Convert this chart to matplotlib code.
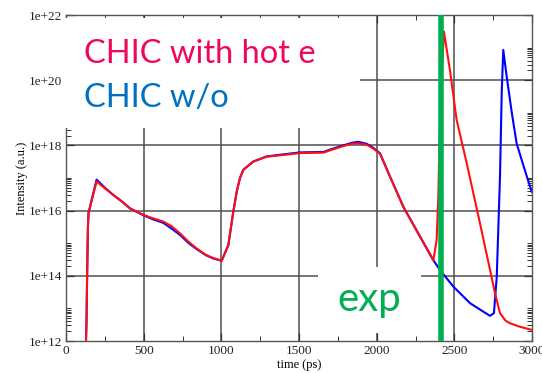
import numpy as np
import matplotlib
matplotlib.use("Agg")
import matplotlib.pyplot as plt
from matplotlib.patches import Rectangle

# time (ps) and intensity (a.u.)
t_hot = [126, 132, 136, 141, 145, 160, 197, 251, 305, 360, 412, 498, 560, 627, 680, 734,
         790, 841, 900, 948, 1002, 1045, 1075, 1099, 1120, 1142, 1206, 1292, 1399, 1506,
         1657, 1720, 1785, 1840, 1880, 1936, 1980, 2022, 2086, 2172, 2279, 2340, 2365,
         2386, 2397, 2401, 2412, 2433, 2472, 2515, 2580, 2665, 2730, 2762, 2794, 2830,
         2858, 2920, 2998]
i_hot = [3e11, 4e12, 1e14, 3e15, 8.3e15, 1.6e16, 7.8e16, 4.8e16, 3.0e16, 1.9e16, 1.17e16,
         7.4e15, 5.8e15, 4.6e15, 3.3e15, 2.0e15, 1.1e15, 6.9e14, 4.4e14, 3.5e14, 2.9e14,
         8.7e14, 8e15, 3.8e16, 1e17, 1.8e17, 3.2e17, 4.5e17, 5.1e17, 5.8e17, 6.0e17,
         7.6e17, 9.5e17, 1.12e18, 1.17e18, 1.05e18, 7.9e17, 5.5e17, 1.1e17, 1.3e16,
         1.6e15, 5e14, 3.0e14, 1.26e15, 2.7e16, 2.2e17, 3e19, 3.1e21, 2.0e20, 6.0e18,
         2.8e17, 4.1e15, 1.5e14, 2.9e13, 7.1e12, 4.2e12, 3.5e12, 2.75e12, 2.2e12]

t_wo = [126, 132, 136, 141, 145, 160, 197, 251, 305, 360, 412, 498, 560, 627, 680, 734,
        790, 841, 900, 948, 1002, 1045, 1075, 1099, 1120, 1142, 1206, 1292, 1399, 1506,
        1657, 1720, 1785, 1840, 1880, 1936, 1980, 2022, 2086, 2172, 2279, 2340, 2365,
        2408, 2493, 2601, 2680, 2730, 2755, 2773, 2794, 2805, 2815, 2837, 2870, 2901,
        2950, 2998]
i_wo = [3e11, 4e12, 1e14, 3e15, 8.3e15, 1.7e16, 8.9e16, 5.0e16, 3.0e16, 1.9e16, 1.17e16,
        7.2e15, 5.4e15, 4.2e15, 2.8e15, 1.8e15, 1.0e15, 6.6e14, 4.3e14, 3.4e14, 2.9e14,
        8.7e14, 8e15, 3.8e16, 1e17, 1.8e17, 3.2e17, 4.6e17, 5.3e17, 6.1e17, 6.3e17,
        8.0e17, 1.0e18, 1.2e18, 1.29e18, 1.12e18, 8.3e17, 5.7e17, 1.1e17, 1.3e16,
        1.6e15, 4.8e14, 3.0e14, 1.5e14, 4.7e13, 1.45e13, 8.3e12, 5.9e12, 7.2e12,
        9.3e13, 1.1e17, 4e19, 8.5e20, 1.3e20, 1e19, 1.15e18, 2e17, 3.8e16]

t_exp = 2414
x_ticks = [0, 500, 1000, 1500, 2000, 2500, 3000]
y_ticks = [1e12, 1e14, 1e16, 1e18, 1e20, 1e22]
y_labels = ["1e+12", "1e+14", "1e+16", "1e+18", "1e+20", "1e+22"]

W, H = 542, 373
fig = plt.figure(figsize=(W / 100, H / 100), dpi=100)
ax = fig.add_axes([66 / W, 1 - 341 / H, 466 / W, 326 / H])

serif = "Liberation Serif"
grid_c = "#505050"

ax.set_yscale("log")
ax.set_xlim(0, 3000)
ax.set_ylim(1e12, 1e22)

for x in x_ticks[1:-1]:
    ax.axvline(x, color=grid_c, lw=1.1, zorder=1)
for y in y_ticks[1:-1]:
    ax.axhline(y, color=grid_c, lw=1.1, zorder=1)

ax.plot(t_wo, i_wo, color="#0000ff", lw=1.5, zorder=2)
ax.plot(t_hot, i_hot, color="#ff1010", lw=1.5, zorder=2.1)

ax.set_xticks(x_ticks)
ax.set_xticks(np.arange(250, 3000, 500), minor=True)
ax.set_yticks(y_ticks)
ax.set_yticklabels(y_labels)
ax.set_yticks([k * 10.0 ** n for n in range(12, 22, 2) for k in range(2, 11)], minor=True)
ax.yaxis.set_minor_formatter(matplotlib.ticker.NullFormatter())
ax.tick_params(which="both", direction="in", top=True, right=True, color="#333333")
ax.tick_params(which="major", length=6, width=0.9)
ax.tick_params(which="minor", length=3.5, width=0.7)
ax.tick_params(axis="y", which="major", pad=3)
ax.tick_params(axis="x", which="major", pad=3)
for lab in ax.get_xticklabels() + ax.get_yticklabels():
    lab.set_fontfamily(serif)
    lab.set_fontsize(9.5)
    lab.set_color("#222222")
for s in ax.spines.values():
    s.set_color("#555555")
    s.set_linewidth(1.0)

ax.set_xlabel("time (ps)", fontfamily=serif, fontsize=9, labelpad=1)
ax.set_ylabel("Intensity (a.u.)", fontfamily=serif, fontsize=9, labelpad=0)

ax.axvline(t_exp, color="#00b050", lw=4, zorder=6)

# white boxes behind the overlaid labels
for (x0, y0, x1, y1) in [(63, 18, 360, 128), (318, 267, 421, 333)]:
    fig.patches.append(Rectangle((x0 / W, 1 - y1 / H), (x1 - x0) / W, (y1 - y0) / H,
                                 transform=fig.transFigure, facecolor="white",
                                 edgecolor="none", zorder=3))

big = "Lato"
fig.text(84 / W, 1 - 63 / H, "CHIC with hot e", color="#f0065e", fontsize=23.5,
         fontfamily=big, va="baseline", zorder=5)
fig.text(84 / W, 1 - 107 / H, "CHIC w/o", color="#0070c0", fontsize=23.5,
         fontfamily=big, va="baseline", zorder=5)
fig.text(337 / W, 1 - 311 / H, "exp", color="#00b050", fontsize=29,
         fontfamily=big, va="baseline", zorder=5)

fig.savefig("out.png", dpi=100)
